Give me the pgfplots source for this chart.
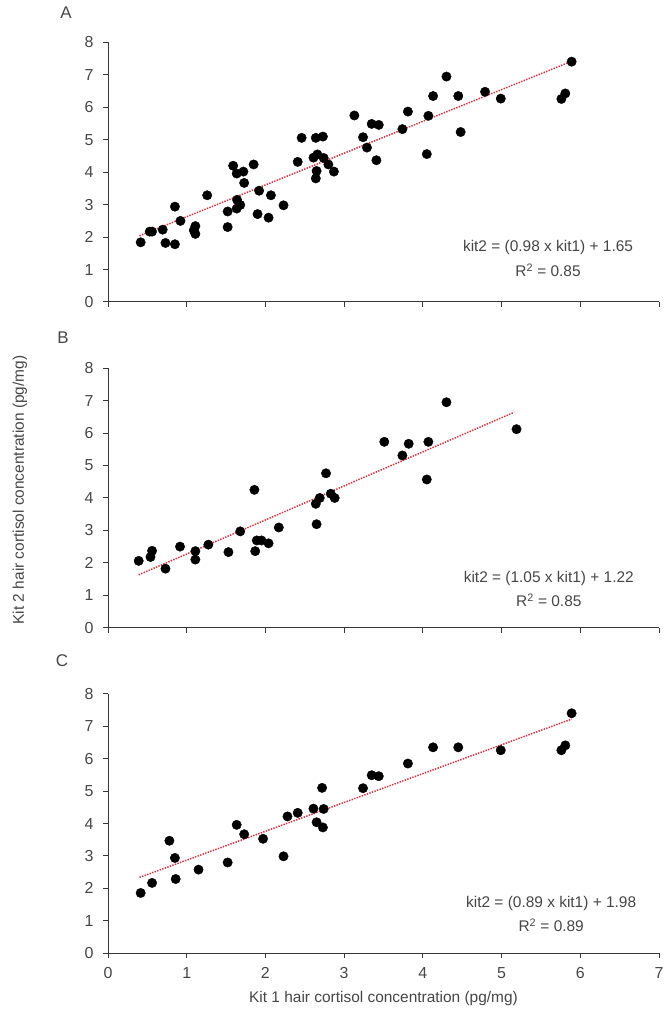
\documentclass[border=0pt]{standalone}
\usepackage{fontspec}
\setmainfont{Liberation Sans}
\usepackage{pgfplots}
\pgfplotsset{compat=1.18}

\definecolor{txt}{RGB}{70,70,70}
\definecolor{trend}{RGB}{225,45,55}
\definecolor{axl}{RGB}{55,55,55}

\pgfplotsset{
  panel/.style={
    scale only axis, width=551bp, height=259.5bp,
    anchor=south west,
    xmin=0, xmax=7, ymin=0, ymax=8,
    xtick={0,...,7}, ytick={0,...,8},
    axis lines=left, axis line style={axl, line width=1pt, -},
    tick style={axl, line width=1pt},
    tick align=outside, major tick length=5bp,
    ticklabel style={font=\fontsize{16}{19}\selectfont, text=txt},
    yticklabel style={xshift=-6bp},
    xticklabel style={yshift=-6bp},
    /pgf/number format/assume math mode=true,
    clip=false,
  },
  dots/.style={only marks, mark=*, mark size=4.7bp, black},
  fit/.style={no marks, trend, line width=1.5pt, dash pattern=on 1.4pt off 1.3pt},
}

\newcommand{\eqfont}{\fontsize{15.5}{18}\selectfont\color{txt}}

\begin{document}
\begin{tikzpicture}
\path[use as bounding box] (0bp,0bp) rectangle (666bp,1016bp);

% panel A
\begin{axis}[panel, at={(108bp,714bp)}, xticklabels={}]
  \addplot[dots] coordinates {
    (0.415,1.84) (0.53,2.17) (0.56,2.17) (0.695,2.23) (0.73,1.82)
    (0.85,1.78) (0.85,2.94) (0.92,2.50) (1.09,2.21) (1.11,2.34)
    (1.11,2.10) (1.26,3.29) (1.52,2.79) (1.52,2.31) (1.59,4.20)
    (1.635,3.96) (1.72,4.02) (1.73,3.67) (1.64,3.15) (1.68,2.99)
    (1.635,2.88) (1.85,4.24) (1.92,3.43) (1.90,2.71) (2.07,3.29)
    (2.04,2.60) (2.23,2.98) (2.41,4.32) (2.46,5.06) (2.64,5.06)
    (2.73,5.10) (2.61,4.45) (2.66,4.55) (2.74,4.44) (2.65,4.04)
    (2.64,3.81) (2.80,4.24) (2.87,4.02) (3.13,5.75) (3.24,5.08)
    (3.29,4.76) (3.35,5.49) (3.44,5.46) (3.41,4.37) (3.74,5.33)
    (3.81,5.87) (4.07,5.74) (4.05,4.56) (4.13,6.35) (4.30,6.95)
    (4.45,6.35) (4.48,5.24) (4.79,6.48) (4.99,6.27) (5.76,6.26)
    (5.81,6.43) (5.89,7.41)
  };
  \addplot[fit] coordinates {(0.40,2.04) (5.89,7.42)};
  \node[font=\eqfont] at (axis cs:5.59,1.69) {kit2 = (0.98 x kit1) + 1.65};
  \node[font=\eqfont] at (axis cs:5.59,0.97) {R\textsuperscript{2} = 0.85};
\end{axis}

% panel B
\begin{axis}[panel, at={(108bp,388.3bp)}, xticklabels={}]
  \addplot[dots] coordinates {
    (0.39,2.06) (0.54,2.18) (0.56,2.37) (0.73,1.82) (0.915,2.50)
    (1.11,2.36) (1.11,2.10) (1.275,2.56) (1.53,2.33) (1.68,2.97)
    (1.86,4.25) (1.87,2.36) (1.89,2.69) (1.95,2.69) (2.04,2.60)
    (2.17,3.09) (2.64,3.82) (2.65,3.19) (2.69,4.00) (2.77,4.76)
    (2.83,4.13) (2.88,4.00) (3.51,5.73) (3.74,5.31) (3.82,5.67)
    (4.07,5.73) (4.05,4.57) (4.30,6.95) (5.19,6.12)
  };
  \addplot[fit] coordinates {(0.39,1.63) (5.16,6.64)};
  \node[font=\eqfont] at (axis cs:5.6,1.53) {kit2 = (1.05 x kit1) + 1.22};
  \node[font=\eqfont] at (axis cs:5.6,0.84) {R\textsuperscript{2} = 0.85};
\end{axis}

% panel C
\begin{axis}[panel, at={(108bp,62.7bp)}]
  \addplot[dots] coordinates {
    (0.415,1.86) (0.56,2.17) (0.78,3.47) (0.85,2.94) (0.86,2.29)
    (1.15,2.58) (1.52,2.80) (1.635,3.96) (1.73,3.67) (1.97,3.53)
    (2.23,2.99) (2.28,4.22) (2.41,4.33) (2.61,4.46) (2.65,4.04)
    (2.72,5.10) (2.74,4.45) (2.73,3.88) (3.24,5.09) (3.35,5.49)
    (3.44,5.46) (3.81,5.85) (4.13,6.35) (4.45,6.35) (4.99,6.26)
    (5.76,6.26) (5.81,6.41) (5.89,7.40)
  };
  \addplot[fit] coordinates {(0.40,2.34) (5.89,7.22)};
  \node[font=\eqfont] at (axis cs:5.63,1.54) {kit2 = (0.89 x kit1) + 1.98};
  \node[font=\eqfont] at (axis cs:5.63,0.87) {R\textsuperscript{2} = 0.89};
\end{axis}

% panel letters and shared labels
\node[font=\fontsize{17}{20}\selectfont, text=txt] at (66bp,1003bp) {A};
\node[font=\fontsize{17}{20}\selectfont, text=txt] at (63bp,678bp) {B};
\node[font=\fontsize{17}{20}\selectfont, text=txt] at (62bp,355bp) {C};
\node[font=\fontsize{15.5}{18}\selectfont, text=txt, rotate=90] at (20bp,526bp)
  {Kit 2 hair cortisol concentration (pg/mg)};
\node[font=\fontsize{15.5}{18}\selectfont, text=txt] at (383.5bp,17bp)
  {Kit 1 hair cortisol concentration (pg/mg)};
\end{tikzpicture}
\end{document}
